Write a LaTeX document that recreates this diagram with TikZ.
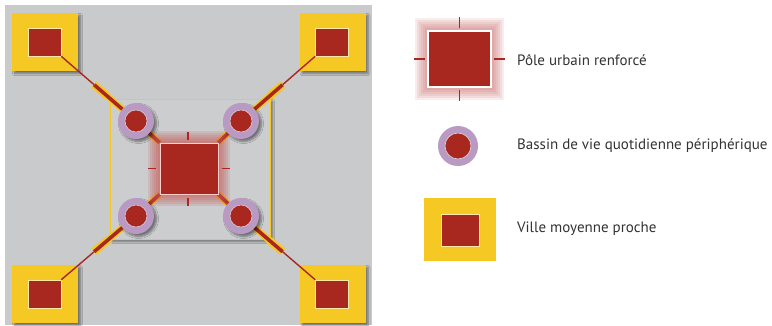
\documentclass[tikz,border=0pt]{standalone}
\usepackage{fontspec}
\setmainfont{PT Sans}
\usetikzlibrary{calc,shadows.blur}
\definecolor{brick}{HTML}{A8281F}
\definecolor{gold}{HTML}{F6C823}
\definecolor{mapgray}{HTML}{C8CACB}
\definecolor{framegray}{HTML}{CBCDCE}
\definecolor{halo}{HTML}{B89AC2}
\definecolor{glowred}{HTML}{C85A58}
\definecolor{ink}{HTML}{333333}
\tikzset{
  softshadow/.style={blur shadow={shadow xshift=2.5pt, shadow yshift=-2.5pt, shadow blur steps=6, shadow opacity=45}},
  city/.style={fill=gold, minimum width=66pt, minimum height=58pt, inner sep=0pt, softshadow},
  citycore/.style={fill=brick, draw=gold!40!white, line width=0.5pt, minimum width=33pt, minimum height=28pt, inner sep=0pt},
  basin/.style={circle, fill=halo, minimum size=36pt, inner sep=0pt, softshadow},
  basincore/.style={circle, fill=brick, draw=halo!40!white, line width=0.5pt, minimum size=22pt, inner sep=0pt},
  thinlink/.style={draw=brick, line width=1.4pt},
  halolink/.style={draw=gold, line width=8pt},
  band/.style={draw=gold, line width=1.5pt, double=brick, double distance=3.6pt},
  pole/.style={fill=brick, draw=red!20!white, line width=0.6pt, inner sep=0pt},
  tickmark/.style={draw=brick, line width=1.4pt},
  label/.style={anchor=west, text=ink, font=\fontsize{15}{18}\selectfont, inner sep=0pt},
}
\begin{document}
\begin{tikzpicture}[x=1pt,y=-1pt]
\useasboundingbox (0,0) rectangle (772,325);
\fill[white] (0,0) rectangle (772,325);
% map background
\fill[mapgray] (5,5) rectangle (372,325);
% frame of the central area
\node[draw=gold, line width=0.6pt, fill=framegray, minimum width=160pt, minimum height=140pt, inner sep=0pt, softshadow] (frame) at (190,169) {};

% nearby medium-sized towns
\node[city] (tl) at (45,42) {};
\node[city] (tr) at (332.5,42) {};
\node[city] (bl) at (45,294) {};
\node[city] (br) at (332.5,294) {};
\node[citycore] (tlc) at (44.5,42) {};
\node[citycore] (trc) at (332,42) {};
\node[citycore] (blc) at (44.5,294) {};
\node[citycore] (brc) at (332,294) {};

% central urban pole (placed first so links can reach its corners)
\node[pole, minimum width=58pt, minimum height=51pt] (pc) at (189,168.5) {};

% peripheral daily-life basins: positions
\coordinate (b1) at (136,121);
\coordinate (b2) at (241,121);
\coordinate (b3) at (136,216);
\coordinate (b4) at (241,216);

% links towns -> basins -> pole
\foreach \c/\b/\p in {tlc.south east/b1/pc.north west, trc.south west/b2/pc.north east, blc.north east/b3/pc.south west, brc.north west/b4/pc.south east}{
  \draw[thinlink] (\c) -- (\b);
  \draw[halolink] ($(\c)!0.44!(\b)$) -- ($(\c)!0.62!(\b)$);
  \draw[band] ($(\c)!0.44!(\b)$) -- (\b);
  \draw[band] (\b) -- (\p);
}

% glow around the pole
\foreach \d in {12,10,8,6,4,2}{
  \fill[glowred, opacity=0.16] ($(pc.north west)+(-\d,-\d)$) rectangle ($(pc.south east)+(\d,\d)$);
}
\node[pole, minimum width=58pt, minimum height=51pt] (pole) at (189,168.5) {};
\draw[tickmark] ($(pole.north)+(-1,-3)$) -- ++(0,-8);
\draw[tickmark] ($(pole.south)+(-1,4)$) -- ++(0,8);
\draw[tickmark] ($(pole.west)+(-4,0)$) -- ++(-8,0);
\draw[tickmark] ($(pole.east)+(4,0)$) -- ++(8,0);

% basins
\foreach \b in {b1,b2,b3,b4}{
  \node[basin] (h\b) at (\b) {};
  \node[basincore] (k\b) at (\b) {};
}

% ---- legend ----
\foreach \d in {13,11,9,7,5,3}{
  \fill[glowred, opacity=0.11] ($(428,31)+(-\d,-\d)$) rectangle ($(491,87)+(\d,\d)$);
}
\node[fill=brick, draw=white, line width=1.4pt, minimum width=63pt, minimum height=56pt, inner sep=0pt] (lpole) at (459.5,59) {};
\draw[tickmark] ($(lpole.north)+(0,-2)$) -- ++(0,-11);
\draw[tickmark] ($(lpole.south)+(0,2)$) -- ++(0,11);
\draw[tickmark] ($(lpole.west)+(-2,0)$) -- ++(-11,0);
\draw[tickmark] ($(lpole.east)+(2,0)$) -- ++(11,0);
\node[label] (t1) at (517,60) {Pôle urbain renforcé};

\node[circle, fill=halo, minimum size=40pt, inner sep=0pt] (lbasin) at (458,146) {};
\node[circle, fill=brick, draw=halo!40!white, line width=0.6pt, minimum size=26pt, inner sep=0pt] (lbasincore) at (458,146) {};
\node[label] (t2) at (517,146) {Bassin de vie quotidienne périphérique};

\node[fill=gold, minimum width=72pt, minimum height=63pt, inner sep=0pt] (lcity) at (460,229.5) {};
\node[fill=brick, draw=gold!40!white, line width=0.6pt, minimum width=38pt, minimum height=32pt, inner sep=0pt] (lcitycore) at (460,230) {};
\node[label] (t3) at (517,229) {Ville moyenne proche};
\end{tikzpicture}
\end{document}
